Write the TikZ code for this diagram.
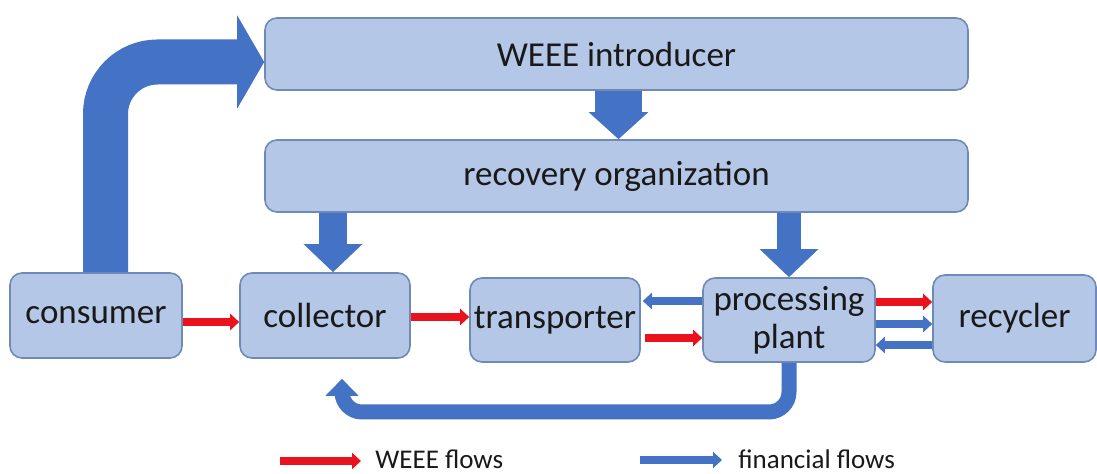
\documentclass[tikz,border=0pt]{standalone}
\usepackage{fontspec}
\setmainfont{Carlito}
\usetikzlibrary{arrows.meta}
\usetikzlibrary{calc}
\definecolor{caixafundo}{RGB}{180,199,231}
\definecolor{caixaborda}{RGB}{112,138,182}
\definecolor{azulfluxo}{RGB}{68,114,196}
\definecolor{vermelhofluxo}{RGB}{234,18,28}
\tikzset{etapa/.style={draw=caixaborda,fill=caixafundo,thick,rounded corners=6pt,
                       inner sep=0pt,text=black!90,font=\fontsize{17.5}{19}\selectfont}}
\tikzset{fluxo/.style={line width=4pt,color=#1,-{Triangle[length=4.5pt,width=8pt]}},fluxo/.default=azulfluxo}

\begin{document}
\begin{tikzpicture}[x=0.5pt,y=-0.5pt,
                    seta grossa/.style={line width=#1,azulfluxo,-{Triangle[length=13.5pt,width=46pt]}},
                    seta bloco/.style={line width=#1,azulfluxo,-{Triangle[length=13.5pt,width=29pt]}},
                    retorno/.style={line width=7.5pt,azulfluxo,rounded corners=10pt,
                                    -{Triangle[length=8.5pt,width=16pt]}}]

		\useasboundingbox (0,0) rectangle (1097,474);

		% As etapas da cadeia
		\node [etapa,minimum width=351.5pt,minimum height=36pt] (intro) at (616.5,54) {WEEE introducer};
		\node [etapa,minimum width=351.5pt,minimum height=36pt] (recov) at (616.5,176) {recovery organization};
		\node [etapa,minimum width=86pt,minimum height=42.5pt] (consumer) at (96,315.5) {consumer};
		\node [etapa,minimum width=85pt,minimum height=42.5pt] (collector) at (325,315.5) {collector};
		\node [etapa,minimum width=85pt,minimum height=42pt] (transporter) at (555,320) {transporter};
		\node [etapa,minimum width=86pt,minimum height=42pt,align=center] (plant) at (789,320)
			{processing\\plant};
		\node [etapa,minimum width=81.5pt,minimum height=43.5pt] (recycler) at (1014.5,318.5) {recycler};

		% Flecha grande: consumidor -> introdutor
		\draw [seta grossa=22.5pt,rounded corners=26pt]
			($(consumer.north)+(9.5,0)$) |- ($(intro.west)+(0,8)$);

		% Flechas verticais
		\draw [seta bloco=23.5pt] ($(intro.south)+(2,0)$) -- ($(recov.north)+(2,0)$);
		\draw [seta bloco=14pt,-{Triangle[length=14pt,width=28.5pt]}]
			($(collector.north |- recov.south)+(8,0)$) -- ($(collector.north)+(8,0)$);
		\draw [seta bloco=12pt,-{Triangle[length=14pt,width=28.5pt]}]
			(plant.north |- recov.south) -- (plant.north);

		% Fluxos de REEE (vermelho)
		\draw [fluxo=vermelhofluxo] (consumer.east |- 0,322) -- (collector.west |- 0,322);
		\draw [fluxo=vermelhofluxo] (collector.east |- 0,317) -- (transporter.west |- 0,317);
		\draw [fluxo=vermelhofluxo] ($(transporter.east |- 0,338)+(4,0)$) -- (plant.west |- 0,338);
		\draw [fluxo=vermelhofluxo] (plant.east |- 0,302) -- (recycler.west |- 0,302);

		% Fluxos financeiros (azul)
		\draw [fluxo] (plant.west |- 0,301) -- ($(transporter.east |- 0,301)+(2,0)$);
		\draw [fluxo] (plant.east |- 0,324) -- (recycler.west |- 0,324);
		\draw [fluxo] (recycler.west |- 0,345) -- (plant.east |- 0,345);

		% Retorno da usina ao coletor
		\draw [retorno] (plant.south) |- (412,412) -| ($(collector.south)+(17,20)$);

		% Legenda
		\coordinate (leg weee a) at (280,461);
		\coordinate (leg weee b) at (361,461);
		\coordinate (leg fin a) at (640,460);
		\coordinate (leg fin b) at (722,460);
		\draw [fluxo=vermelhofluxo] (leg weee a) -- (leg weee b);
		\draw [fluxo] (leg fin a) -- (leg fin b);
		\node [anchor=west,inner sep=0pt,font=\fontsize{13.5}{15}\selectfont,text=black!90]
			(leg weee) at (375,459) {WEEE flows};
		\node [anchor=west,inner sep=0pt,font=\fontsize{13.5}{15}\selectfont,text=black!90]
			(leg fin) at (738,459) {financial flows};

	\end{tikzpicture}
\end{document}
